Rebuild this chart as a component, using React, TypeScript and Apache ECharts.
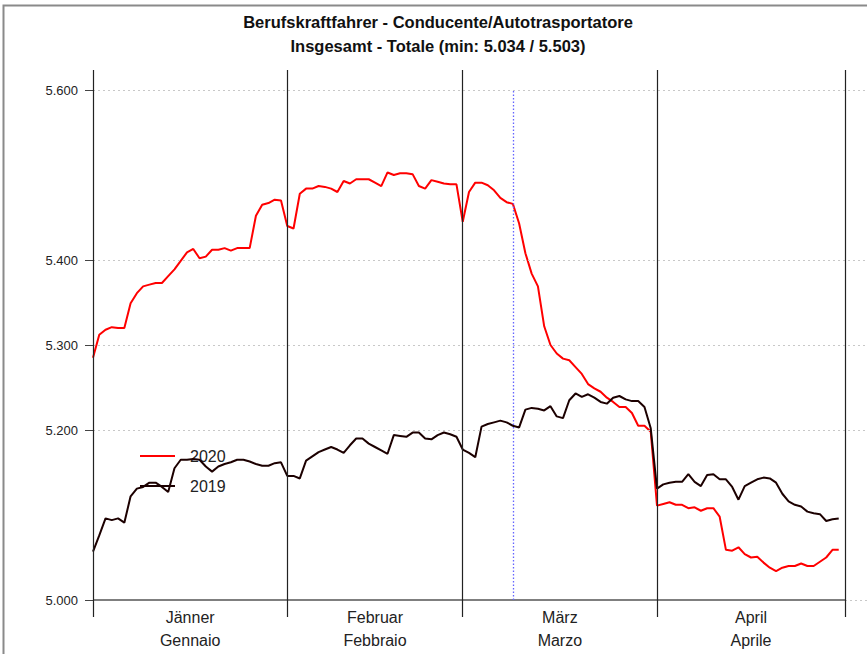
import React, { useEffect, useRef } from "react";
import * as echarts from "echarts";

const titleLine1 = "Berufskraftfahrer - Conducente/Autotrasportatore";
const titleLine2 = "Insgesamt - Totale (min: 5.034 / 5.503)";

const seriesNames = ["2020", "2019"];

// daily values (1 Jan .. 30 Apr), counts
const values2020 = [
  5285, 5312, 5318, 5321, 5320, 5320, 5349, 5361, 5369, 5371, 5373, 5373, 5381, 5389, 5399, 5409,
  5413, 5402, 5404, 5412, 5412, 5414, 5411, 5414, 5414, 5414, 5452, 5465, 5467, 5471, 5470,
  5440, 5437, 5478, 5484, 5484, 5487, 5486, 5484, 5480, 5493, 5490, 5495, 5495, 5495, 5491, 5487,
  5503, 5500, 5502, 5502, 5501, 5487, 5484, 5494, 5492, 5490, 5489, 5489,
  5445, 5480, 5491, 5491, 5488, 5482, 5473, 5468, 5466, 5443, 5408, 5384, 5369, 5322, 5300, 5290,
  5284, 5282, 5274, 5266, 5254, 5249, 5245, 5238, 5233, 5227, 5227, 5220, 5205, 5205, 5198,
  5111, 5113, 5115, 5112, 5112, 5108, 5109, 5105, 5108, 5108, 5098, 5059, 5058, 5062, 5054,
  5050, 5051, 5044, 5038, 5034, 5038, 5040, 5040, 5043, 5040, 5040, 5045, 5050, 5059, 5059,
];

const values2019 = [
  5057, 5076, 5096, 5094, 5096, 5091, 5122, 5131, 5133, 5138, 5138, 5133, 5127, 5155, 5165, 5165,
  5166, 5165, 5157, 5151, 5157, 5160, 5162, 5165, 5165, 5163, 5160, 5158, 5158, 5161, 5162,
  5146, 5146, 5143, 5164, 5169, 5174, 5177, 5180, 5177, 5173, 5182, 5190, 5190, 5184, 5180, 5176,
  5172, 5194, 5193, 5192, 5197, 5197, 5190, 5189, 5194, 5197, 5195, 5192,
  5177, 5173, 5168, 5204, 5207, 5209, 5211, 5209, 5205, 5203, 5224, 5226, 5225, 5223, 5228, 5216,
  5214, 5235, 5243, 5239, 5242, 5238, 5233, 5231, 5238, 5240, 5236, 5234, 5234, 5227, 5202,
  5131, 5136, 5138, 5139, 5139, 5148, 5139, 5134, 5147, 5148, 5142, 5142, 5133, 5118, 5134,
  5138, 5142, 5144, 5143, 5138, 5125, 5116, 5112, 5110, 5104, 5102, 5101, 5093, 5095, 5096,
];

const monthStarts = [0, 31, 59, 90, 120];
const monthLabels = ["Jänner\nGennaio", "Februar\nFebbraio", "März\nMarzo", "April\nAprile"];
const yTicks = [5000, 5200, 5300, 5400, 5600];
const markerDay = 67;

const fmt = (n: number) => Math.floor(n / 1000) + "." + String(Math.round(n % 1000)).padStart(3, "0");

export default function App() {
  const ref = useRef<HTMLDivElement>(null);
  useEffect(() => {
    document.body.style.margin = "0";
    if (!ref.current) return;
    const chart = echarts.init(ref.current, null, { renderer: "svg" });
    const centers = monthLabels.map((_, i) => (monthStarts[i] + monthStarts[i + 1]) / 2);
    const lastDay = monthStarts[monthStarts.length - 1];
    const pxPerDay = 752 / lastDay;
    const xMax = lastDay + 22 / pxPerDay;
    const yMin = 5000 - 17 / 0.85;
    const yMax = 5600 + 20 / 0.85;
    const font = "'Liberation Sans', Arial, Helvetica, sans-serif";
    const dotted = { color: "#c8c8c8", width: 1, type: [2, 3] as any };
    const blue = { color: "#6464ff", width: 1.3, type: [1.5, 2] as any, opacity: 1 };
    const axisSolid = { color: "#555", width: 1.5, type: "solid" };
    chart.setOption({
      animation: false,
      backgroundColor: "#ffffff",
      title: {
        text: titleLine1 + "\n" + titleLine2,
        left: 438,
        top: 10,
        textAlign: "center",
        padding: 0,
        textStyle: { fontFamily: font, fontSize: 16.5, fontWeight: "bold", color: "#111", lineHeight: 24 },
      },
      legend: {
        data: seriesNames,
        orient: "vertical",
        left: 140,
        top: 446,
        padding: 0,
        icon: "rect",
        itemWidth: 35,
        itemHeight: 2,
        itemGap: 10,
        textStyle: { fontFamily: font, fontSize: 16, color: "#222", lineHeight: 20, padding: [0, 0, 0, 10] },
      },
      grid: { left: 93, right: 0, top: 70, bottom: 37 },
      xAxis: {
        type: "value",
        min: 0,
        max: xMax,
        axisLine: { show: false },
        axisTick: { show: false },
        splitLine: { show: false },
        axisLabel: {
          customValues: centers,
          margin: -11,
          fontFamily: font,
          fontSize: 16,
          lineHeight: 23,
          color: "#222",
          formatter: (v: number) => {
            const i = centers.findIndex((c) => Math.abs(c - v) < 0.01);
            return i >= 0 ? monthLabels[i] : "";
          },
        },
      },
      yAxis: {
        type: "value",
        min: yMin,
        max: yMax,
        axisLine: { show: false },
        splitLine: { show: false },
        axisTick: { show: true, customValues: yTicks, length: 8, lineStyle: { color: "#444" } },
        axisLabel: {
          customValues: yTicks,
          margin: 15,
          fontFamily: font,
          fontSize: 13,
          color: "#222",
          formatter: (v: number) => fmt(v),
        },
      },
      graphic: [
        {
          type: "polyline",
          shape: { points: [[3.5, 654], [3.5, 5.5], [867, 5.5]] },
          style: { stroke: "#8a8a8a", lineWidth: 2, fill: "none" },
          silent: true,
        },
      ],
      series: [
        {
          name: seriesNames[0],
          type: "line",
          data: values2020.map((v, i) => [i, v]),
          showSymbol: false,
          symbol: "none",
          lineStyle: { color: "#ff0000", width: 2 },
          itemStyle: { color: "#ff0000" },
          z: 3,
          markLine: {
            silent: true,
            symbol: "none",
            label: { show: false },
            data: [
              ...yTicks
                .filter((t) => t !== 5000)
                .map((t) => ({ yAxis: t, lineStyle: dotted })),
              [
                { coord: [lastDay, 5000], lineStyle: dotted },
                { coord: [xMax, 5000], lineStyle: dotted },
              ],
              [
                { coord: [0, 5000], lineStyle: axisSolid },
                { coord: [lastDay, 5000], lineStyle: axisSolid },
              ],
              ...monthStarts.map((d) => ({ xAxis: d, lineStyle: { color: "#222", width: 1.2, type: "solid" } })),
            ],
          },
        },
        {
          name: seriesNames[1],
          type: "line",
          data: values2019.map((v, i) => [i, v]),
          showSymbol: false,
          symbol: "none",
          lineStyle: { color: "#1c0000", width: 2 },
          itemStyle: { color: "#1c0000" },
          z: 4,
          markLine: {
            silent: true,
            symbol: "none",
            label: { show: false },
            lineStyle: blue,
            data: [
              [
                { coord: [markerDay, 5000], lineStyle: blue },
                { coord: [markerDay, 5600], lineStyle: blue },
              ],
            ],
          },
        },
      ],
    });
    return () => chart.dispose();
  }, []);
  return (
    <div
      ref={ref}
      style={{ position: "fixed", left: 0, top: 0, width: 867, height: 654, background: "#fff" }}
    />
  );
}
